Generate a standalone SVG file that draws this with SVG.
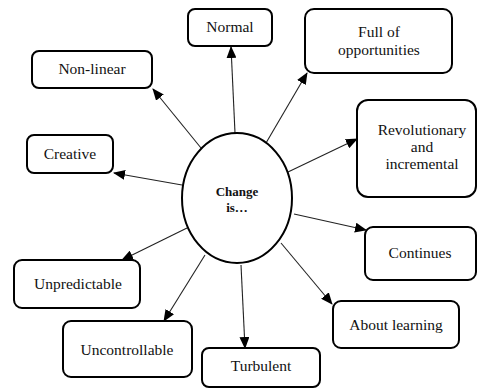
<svg xmlns="http://www.w3.org/2000/svg" width="478" height="389" viewBox="0 0 478 389">
<style>
.box{fill:#fff;stroke:#000;stroke-width:2}
.t{font-size:15.5px;fill:#111;text-anchor:middle}
.b{font-weight:bold;font-size:13px}
.c line{stroke:#222;stroke-width:1.1;marker-end:url(#ah)}
</style>
<defs>
<marker id="ah" markerUnits="userSpaceOnUse" markerWidth="12" markerHeight="10" refX="11" refY="5" orient="auto">
<path d="M0,0 L12,5 L0,10 Z" fill="#000"/>
</marker>
</defs>
<rect width="478" height="389" fill="#fff"/>
<g id="connectors" class="c">
<line x1="235" y1="133" x2="231" y2="47"/>
<line x1="201" y1="148" x2="153" y2="89"/>
<line x1="182" y1="185" x2="114" y2="173"/>
<line x1="266" y1="143" x2="307" y2="73"/>
<line x1="288" y1="172" x2="357" y2="139"/>
<line x1="294" y1="214" x2="366" y2="230"/>
<line x1="281" y1="243" x2="332" y2="304"/>
<line x1="241" y1="265" x2="245" y2="348"/>
<line x1="187" y1="228" x2="122" y2="260"/>
<line x1="205" y1="255" x2="164" y2="321"/>
</g>
<g font-family="Liberation Serif, Times New Roman, serif">
<g id="center">
<ellipse cx="237" cy="198" rx="55" ry="65" fill="#fff" stroke="#000" stroke-width="2"/>
<text class="t b" x="237" y="196">Change</text>
<text class="t b" x="237" y="212">is…</text>
</g>
<g id="normal"><rect class="box" x="188" y="9" width="84" height="37" rx="7"/><text class="t" x="230" y="32">Normal</text></g>
<g id="full"><rect class="box" x="305" y="9" width="147" height="64" rx="9"/><text class="t" x="379" y="37">Full of</text><text class="t" x="379" y="55">opportunities</text></g>
<g id="revolutionary"><rect class="box" x="357" y="100" width="119" height="97" rx="11"/><text class="t" x="422" y="135">Revolutionary</text><text class="t" x="422" y="152">and</text><text class="t" x="422" y="169">incremental</text></g>
<g id="nonlinear"><rect class="box" x="32" y="51" width="120" height="37" rx="7"/><text class="t" x="92" y="74">Non-linear</text></g>
<g id="creative"><rect class="box" x="27" y="135" width="86" height="38" rx="7"/><text class="t" x="70" y="159">Creative</text></g>
<g id="unpredictable"><rect class="box" x="14" y="260" width="126" height="48" rx="8"/><text class="t" x="78" y="289">Unpredictable</text></g>
<g id="uncontrollable"><rect class="box" x="63" y="321" width="129" height="56" rx="8"/><text class="t" x="127" y="355">Uncontrollable</text></g>
<g id="turbulent"><rect class="box" x="202" y="348" width="118" height="39" rx="7"/><text class="t" x="261" y="371">Turbulent</text></g>
<g id="continues"><rect class="box" x="365" y="227" width="111" height="53" rx="8"/><text class="t" x="420" y="258">Continues</text></g>
<g id="learning"><rect class="box" x="333" y="301" width="126" height="47" rx="8"/><text class="t" x="396" y="330">About learning</text></g>
</g>
</svg>
